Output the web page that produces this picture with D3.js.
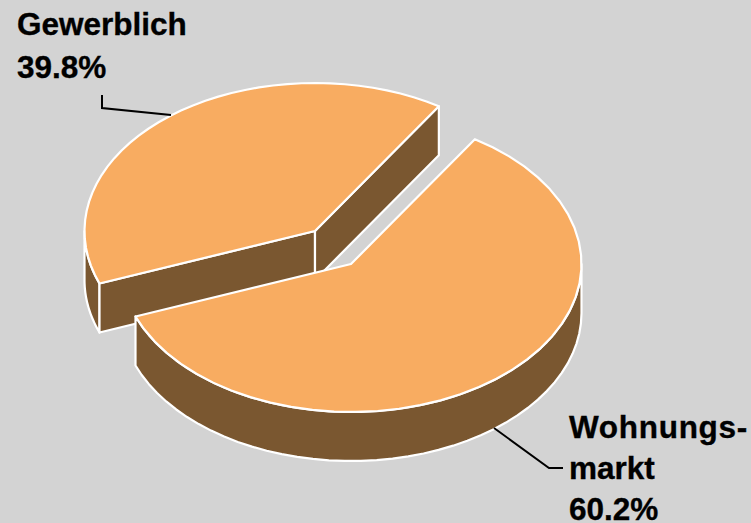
<!DOCTYPE html>
<html>
<head>
<meta charset="utf-8">
<script src="https://cdn.jsdelivr.net/npm/d3@7"></script>
<style>
  html, body { margin: 0; padding: 0; background: #d3d3d3; }
  svg { display: block; }
  text { font-family: "Liberation Sans", Arial, sans-serif; font-weight: bold; font-size: 31.5px; fill: #000; stroke: #000; stroke-width: 0.35px; }
</style>
</head>
<body>
<script>
const WIDTH = 751
const HEIGHT = 523

// data
const categories = ["Wohnungsmarkt", "Gewerblich"];
const shares = [60.2, 39.8];
const labelLines = [["Wohnungs-", "markt", "60.2%"], ["Gewerblich", "39.8%"]];

// pie look
const START_ANGLE = 32.5 * Math.PI / 180;
const RX = 230.5, RY = 148, DEPTH = 49;
const CENTERS = [{x: 351, y: 264}, {x: 315, y: 231}];
const TOP_COLOR = "#f8ac61", SIDE_COLOR = "#7a5730";

const svg = d3.select("body").append("svg").attr("width", WIDTH).attr("height", HEIGHT);
svg.append("rect").attr("width", WIDTH).attr("height", HEIGHT).attr("fill", "#d3d3d3");

const arcs = d3.pie().sort(null).startAngle(START_ANGLE).endAngle(START_ANGLE + 2 * Math.PI)(shares);

// angle is clockwise from 12 o'clock, as in d3.pie
const pt = (c, a, drop = 0) => [c.x + RX * Math.sin(a), c.y - RY * Math.cos(a) + drop];
const rim = (c, a0, a1, drop = 0) => d3.range(0, 41).map(i => pt(c, a0 + (a1 - a0) * i / 40, drop));
const line = d3.line();

function face(pts) {
  return line(pts) + "Z";
}
function drawFace(g, pts, color) {
  g.append("path").attr("d", face(pts)).attr("fill", color)
    .attr("stroke", "#fff").attr("stroke-width", 2.2).attr("stroke-linejoin", "round");
}

const g = svg.append("g").attr("id", "pie");

// back slice first, the front slice covers part of its walls
[1, 0].forEach(i => {
  const d = arcs[i], c = CENTERS[i];
  const apex = [c.x, c.y], apexLow = [c.x, c.y + DEPTH];
  const sg = g.append("g").attr("class", "slice").datum(categories[i]);
  if (i === 1) {
    // outer wall at the far left
    const upper = rim(c, d.startAngle, 1.5 * Math.PI);
    const lower = rim(c, 1.5 * Math.PI, d.startAngle, DEPTH);
    drawFace(sg, upper.concat(lower), SIDE_COLOR);
    // the two cut faces
    const s = pt(c, d.startAngle), e = pt(c, d.endAngle);
    drawFace(sg, [s, apex, apexLow, [s[0], s[1] + DEPTH]], SIDE_COLOR);
    drawFace(sg, [apex, e, [e[0], e[1] + DEPTH], apexLow], SIDE_COLOR);
  } else {
    // outer wall along the front
    const upper = rim(c, 0.5 * Math.PI, d.endAngle);
    const lower = rim(c, d.endAngle, 0.5 * Math.PI, DEPTH);
    drawFace(sg, upper.concat(lower), SIDE_COLOR);
  }
  drawFace(sg, [apex].concat(rim(c, d.startAngle, d.endAngle)), TOP_COLOR);
});

// leader lines
const leaders = g.append("g").attr("fill", "none").attr("stroke", "#000").attr("stroke-width", 2);
leaders.append("path").attr("d", line([[102, 95], [102, 108], [171, 115]]));
leaders.append("path").attr("d", line([[494, 428], [549, 468], [563, 468]]));

// labels
const labels = svg.append("g").attr("id", "labels");
const labelPos = [{x: 569, y: 438}, {x: 17, y: 35}];
labelLines.forEach((lines, i) => {
  labels.selectAll(null).data(lines).join("text")
    .attr("x", labelPos[i].x)
    .attr("y", (d, j) => labelPos[i].y + j * (i === 0 ? 41 : 43))
    .attr("letter-spacing", d => d === "Wohnungs-" ? "0.7px" : null)
    .text(d => d);
});
</script>
</body>
</html>
